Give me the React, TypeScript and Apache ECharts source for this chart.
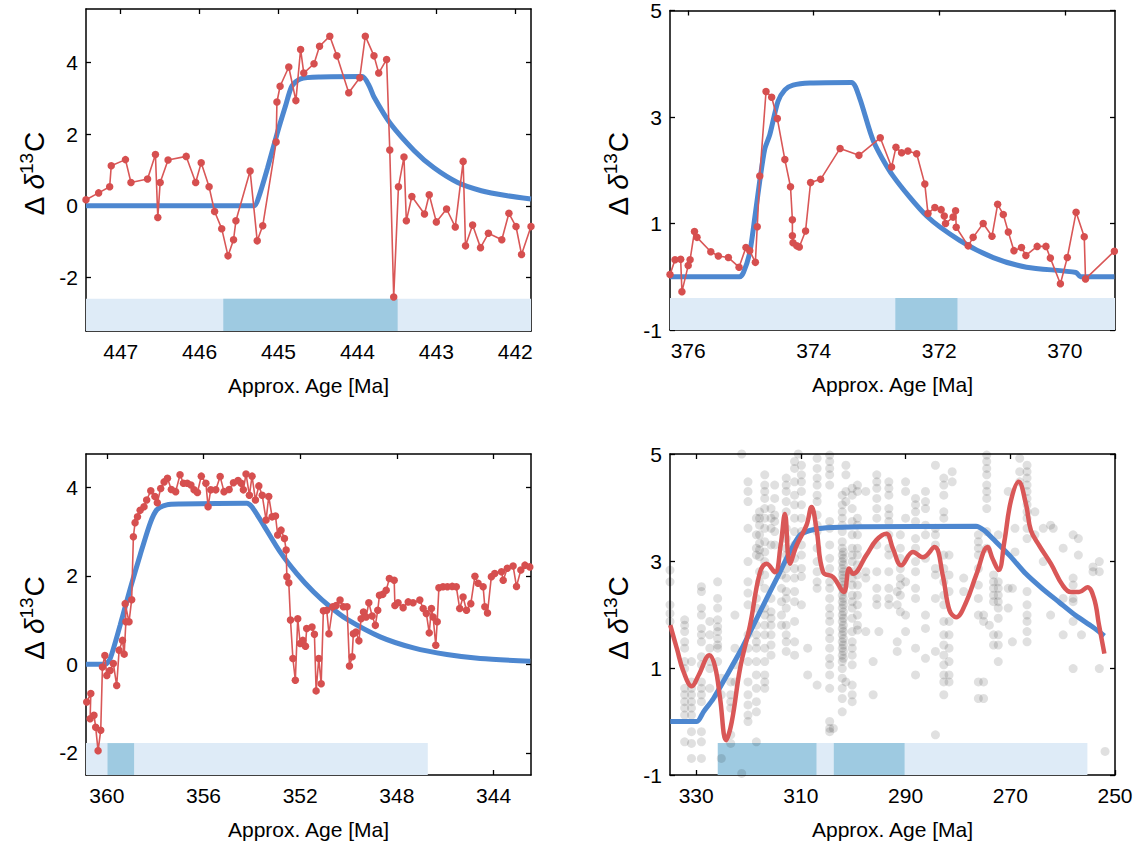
import React, { useEffect, useRef } from 'react';
import * as echarts from 'echarts';

type Pt = [number, number];

const FONT = '"Liberation Sans", Arial, Helvetica, sans-serif';
const RED = '#d64f4f';
const RED_LINE = '#d95757';
const BLUE = '#4d87d0';
const BAND_LIGHT = '#deebf7';
const BAND_DARK = '#9ecae1';

// ---- Panel A: Late Ordovician (Hirnantian) ----
const hirnantianObs: Pt[] = [
  [447.44, 0.17], [447.28, 0.36], [447.14, 0.53], [447.12, 1.12], [446.94, 1.29], [446.87, 0.65],
  [446.66, 0.75], [446.56, 1.43], [446.53, -0.33], [446.5, 0.65], [446.4, 1.28], [446.17, 1.38],
  [446.05, 0.65], [445.98, 1.2], [445.88, 0.53], [445.81, -0.16], [445.72, -0.64], [445.64, -1.4],
  [445.57, -0.95], [445.54, -0.42], [445.36, 0.97], [445.27, -0.98], [445.2, -0.56], [445.03, 1.78],
  [445.02, 2.9], [444.98, 3.34], [444.87, 3.88], [444.78, 2.94], [444.72, 4.37], [444.68, 3.71],
  [444.55, 3.97], [444.48, 4.46], [444.35, 4.74], [444.26, 4.19], [444.11, 3.16], [443.97, 3.58],
  [443.9, 4.74], [443.79, 4.19], [443.73, 3.71], [443.63, 4.09], [443.59, 1.56], [443.54, -2.55],
  [443.48, 0.53], [443.41, 1.36], [443.38, -0.42], [443.31, 0.26], [443.15, -0.23], [443.09, 0.31],
  [443.0, -0.45], [442.87, -0.09], [442.76, -0.59], [442.66, 1.24], [442.63, -1.12], [442.54, -0.54],
  [442.44, -1.17], [442.34, -0.77], [442.17, -0.95], [442.08, -0.21], [441.99, -0.58], [441.92, -1.36],
  [441.8, -0.58],
];
const hirnantianModel: Pt[] = [
  [447.44, 0], [445.31, 0], [445.25, 0.25], [445.14, 1.05], [445.02, 2.0], [444.91, 2.8],
  [444.83, 3.35], [444.72, 3.55], [444.47, 3.6], [443.94, 3.61], [443.85, 3.35], [443.79, 3.04],
  [443.58, 2.29], [443.28, 1.54], [443.03, 1.06], [442.73, 0.65], [442.43, 0.42], [442.1, 0.28],
  [441.8, 0.19],
];

// ---- Panel B: Late Devonian ----
const devonianObs: Pt[] = [
  [376.29, 0.04], [376.21, 0.32], [376.12, 0.33], [376.1, -0.28], [376.0, 0.21], [375.97, 0.32],
  [375.9, 0.85], [375.86, 0.74], [375.64, 0.47], [375.52, 0.39], [375.36, 0.36], [375.19, 0.18],
  [375.08, 0.55], [375.02, 0.49], [374.93, 0.27], [374.9, 0.94], [374.86, 1.89], [374.76, 3.48],
  [374.67, 3.37], [374.58, 2.97], [374.46, 2.2], [374.37, 1.69], [374.34, 1.07], [374.34, 0.77],
  [374.33, 0.64], [374.27, 0.58], [374.23, 0.56], [374.13, 0.86], [374.05, 1.77], [373.89, 1.83],
  [373.58, 2.41], [373.28, 2.28], [372.94, 2.61], [372.76, 2.06], [372.69, 2.43], [372.6, 2.33],
  [372.5, 2.36], [372.36, 2.31], [372.23, 1.74], [372.18, 1.19], [372.07, 1.3], [371.97, 1.26],
  [371.92, 1.14], [371.9, 1.0], [371.78, 1.12], [371.74, 1.24], [371.73, 0.93], [371.54, 0.58],
  [371.46, 0.74], [371.3, 1.0], [371.16, 0.76], [371.07, 1.36], [370.98, 1.17], [370.9, 0.84],
  [370.81, 0.49], [370.69, 0.55], [370.62, 0.4], [370.44, 0.57], [370.3, 0.57], [370.23, 0.35],
  [370.07, -0.13], [369.96, 0.36], [369.82, 1.21], [369.69, 0.75], [369.67, -0.04], [369.21, 0.48],
];
const devonianModel: Pt[] = [
  [376.29, 0], [375.18, 0], [375.12, 0.08], [375.02, 0.45], [374.94, 1.1], [374.86, 1.8],
  [374.78, 2.4], [374.7, 2.67], [374.57, 3.29], [374.46, 3.51], [374.33, 3.6], [374.06, 3.64],
  [373.4, 3.65], [373.27, 3.36], [373.05, 2.55], [372.74, 1.9], [372.2, 1.14], [371.67, 0.68],
  [371.14, 0.36], [370.61, 0.18], [369.82, 0.08], [369.75, 0], [369.21, 0],
];

// ---- Panel C: Early Carboniferous ----
const carboniferousObs: Pt[] = [
  [360.83, -0.85], [360.66, -0.66], [360.69, -1.23], [360.53, -1.15], [360.46, -1.42], [360.36, -1.95],
  [360.25, -1.49], [360.18, -0.06], [360.08, 0.2], [360.0, -0.25], [359.86, -0.14], [359.73, 0.02],
  [359.59, -0.48], [359.49, 0.32], [359.35, 0.54], [359.28, 0.23], [359.21, 0.96], [359.24, 1.37],
  [359.08, 0.96], [358.97, 1.46], [358.9, 2.88], [358.83, 3.2], [358.73, 3.33], [358.62, 3.48],
  [358.46, 3.56], [358.35, 3.71], [358.18, 3.92], [358.01, 3.79], [357.91, 3.65], [357.77, 3.97],
  [357.63, 4.12], [357.49, 4.2], [357.33, 3.95], [357.15, 3.9], [356.97, 4.28], [356.83, 4.09],
  [356.67, 4.09], [356.52, 4.05], [356.39, 3.94], [356.25, 3.88], [356.09, 4.25], [355.9, 4.09],
  [355.81, 3.56], [355.7, 3.94], [355.49, 3.94], [355.31, 4.24], [355.15, 3.9], [354.94, 3.95],
  [354.76, 4.1], [354.57, 4.15], [354.44, 4.09], [354.35, 3.94], [354.24, 4.3], [354.1, 3.82],
  [353.99, 4.25], [353.85, 3.71], [353.71, 4.03], [353.57, 3.82], [353.41, 3.26], [353.3, 3.79],
  [353.16, 3.33], [353.02, 3.35], [352.93, 2.92], [352.79, 3.03], [352.65, 2.84], [352.58, 2.58],
  [352.55, 1.98], [352.47, 1.84], [352.4, 1.0], [352.3, 0.13], [352.2, -0.36], [352.1, 1.03],
  [352.0, 0.47], [351.89, 0.54], [351.78, 0.41], [351.73, 0.81], [351.51, 0.84], [351.41, 0.68],
  [351.34, -0.6], [351.23, 0.13], [351.13, -0.44], [351.04, 1.21], [350.9, 1.22], [350.81, 0.69],
  [350.65, 1.3], [350.51, 1.33], [350.35, 1.45], [350.21, 1.3], [350.06, 1.3], [349.96, -0.04],
  [349.85, 0.17], [349.8, 0.69], [349.69, 0.73], [349.57, 0.53], [349.48, 1.03], [349.38, 1.18],
  [349.27, 1.07], [349.16, 1.39], [349.02, 1.09], [348.89, 0.88], [348.79, 1.22], [348.72, 1.56],
  [348.58, 1.58], [348.44, 1.67], [348.31, 1.94], [348.11, 1.9], [348.08, 1.33], [347.95, 1.39],
  [347.74, 1.28], [347.53, 1.41], [347.33, 1.39], [347.05, 1.45], [346.91, 1.26], [346.78, 1.15],
  [346.66, 0.71], [346.57, 1.26], [346.5, 1.07], [346.39, 0.43], [346.33, 0.96], [346.26, 1.73],
  [346.09, 1.75], [345.91, 1.75], [345.71, 1.76], [345.54, 1.75], [345.4, 1.26], [345.26, 1.52],
  [345.12, 1.22], [344.94, 1.37], [344.77, 1.99], [344.64, 1.83], [344.43, 1.75], [344.36, 1.3],
  [344.25, 1.16], [344.09, 1.98], [343.95, 2.05], [343.67, 2.09], [343.6, 1.9], [343.43, 2.17],
  [343.19, 2.22], [343.05, 1.76], [342.87, 2.13], [342.7, 2.24], [342.5, 2.2],
];
const carboniferousModel: Pt[] = [
  [360.86, 0], [360.07, 0], [359.86, 0.13], [359.45, 0.88], [359.03, 1.71], [358.62, 2.47],
  [358.21, 3.18], [357.93, 3.49], [357.52, 3.6], [356.97, 3.62], [354.21, 3.64], [354.0, 3.56],
  [353.52, 3.15], [352.83, 2.54], [352.14, 2.05], [351.45, 1.64], [350.76, 1.3], [350.07, 1.02],
  [348.69, 0.62], [347.31, 0.37], [345.93, 0.22], [344.55, 0.13], [342.48, 0.07],
];

// ---- Panel D: Late Carboniferous to Permian ----
// individual measurements, grouped by sampled age
const permoDots: [number, number[]][] = [
  [335.0, [2.83, 2.61, 2.18, 2.02, 1.87]],
  [332.2, [1.9, 1.8, 1.68, 1.49, 1.37, 1.12, 0.99, 0.62, 0.5, 0.37, 0.25, 0.12, -0.38]],
  [330.9, [1.12, 0.74, 0.62, 0.5, 0.37, 0.25, 0.12, -0.19, -0.41, -0.69]],
  [329.0, [2.52, 2.43, 2.12, 1.99, 1.74, 1.62, 1.49, 1.21, 1.06, 0.74, 0.62, 0.5, 0.37, -0.19, -0.38, -0.69]],
  [327.4, [1.87, 1.62, 1.37, 1.12, 0.99, 0.62]],
  [325.9, [2.61, 2.3, 2.12, 1.9, 1.77, 1.68, 1.55, 1.43, 1.37, 1.12]],
  [325.2, [0.81, 0.5, -0.69]],
  [323.4, [0.74, 0.5, 0.37, 0.25, -0.25, -0.41]],
  [322.6, [1.99, 1.37, 1.06, 0.74]],
  [321.3, [5.0, -0.97]],
  [320.1, [4.48, 4.3, 4.11, 3.61, 2.99, 2.61, 2.4, 2.18, 1.62, 1.37, 1.12, 0.74, 0.5, 0.31, 0.12, 0.0]],
  [318.5, [3.8, 3.49, 3.24, 3.11, 2.3, 2.12, 1.8, 1.62, 1.49, 1.37, 1.12, 0.87, 0.62, 0.37, 0.18, -0.38]],
  [317.9, [3.92, 3.8, 3.67, 3.49, 3.33, 3.21, 3.08, 2.8, 2.61]],
  [316.9, [4.61, 4.42, 4.3, 4.17, 3.98, 3.8, 3.61, 3.36, 3.17, 2.99, 2.74, 2.49, 2.12, 1.99, 1.8, 1.62, 1.37, 1.12, 0.87, 0.74, 0.62]],
  [315.7, [3.98, 3.8, 3.61, 3.3, 2.3, 2.05, 1.93, 1.8, 1.62, 1.43, 1.24]],
  [315.0, [4.42, 4.17, 3.86, 3.74, 3.55, 3.3]],
  [313.7, [2.74, 2.49, 2.24, 1.99, 1.8]],
  [312.8, [4.55, 4.42, 4.3, 4.11, 3.92, 3.61, 3.42, 3.24, 3.11, 2.86, 2.68, 2.43, 2.3, 2.12, 1.8, 1.62, 1.49, 1.31]],
  [311.2, [4.86, 4.73, 4.48, 4.23, 4.05, 3.8, 3.55, 3.3, 3.05, 2.86, 2.68, 2.43, 2.24, 1.87, 1.49, 1.24]],
  [310.5, [5.0]],
  [309.9, [4.79, 4.61, 4.48, 4.3, 4.05, 3.8, 3.55, 3.3, 3.11, 2.86, 2.71, 2.18]],
  [308.7, [1.37, 0.87]],
  [306.9, [4.92, 4.73, 4.55, 4.42, 4.23, 4.11, 3.86, 3.67, 3.55, 3.24, 2.99, 2.8, 2.61, 2.49, 0.68]],
  [304.5, [4.98, 4.86, 4.73, 4.61, 4.42, 3.74, 3.61, 3.3, 3.05, 2.86, 2.61, 2.49, 2.3, 2.12, 1.99, 1.87, 1.68, 1.55, 1.37, 1.18, 1.06, 0.87, 0.62, 0.0, -0.13, -0.19]],
  [303.8, [-0.13]],
  [302.1, [4.23, 4.05, 3.92, 3.8, 3.67, 3.55, 3.36, 3.24, 3.11, 2.99, 2.86, 2.74, 2.61, 2.49, 2.36, 2.24, 2.12, 1.99, 1.87, 1.74, 1.62, 1.49, 1.37, 1.24, 1.12, 0.99, 0.81, 0.62, 0.43, 0.18]],
  [301.9, [3.17, 3.05, 2.93, 2.8, 2.68, 2.55, 2.43, 2.3, 2.18, 2.05, 1.93, 1.8, 1.68, 1.55, 1.43, 1.31, 1.18]],
  [301.4, [4.79, 4.61, 4.3, 4.11, 0.74]],
  [300.2, [4.36, 4.23, 3.98, 3.74, 3.49, 3.24, 3.11, 2.99, 2.8, 2.68, 2.55, 2.36, 2.24, 2.12, 1.93, 1.68, 1.49, 1.37, 1.24, 1.06, 0.68, 0.5, 0.37]],
  [299.2, [4.42, 4.3, 3.8, 3.67, 3.49, 3.24, 3.11, 2.93, 2.74, 2.55, 2.36, 2.18, 1.99, 1.8, 1.71]],
  [297.6, [4.3, 2.8, 2.68, 1.68]],
  [296.2, [1.12, 0.5]],
  [295.5, [4.61, 4.48, 4.36, 4.17, 3.98, 3.8, 3.3, 2.8, 2.49, 2.3, 2.18]],
  [295.1, [1.68]],
  [293.2, [4.48, 4.36, 4.23, 3.98, 3.86, 3.74, 3.49, 3.24, 3.11, 2.8, 2.49, 2.3, 2.18]],
  [291.6, [2.43, 2.18, 1.49, 1.31]],
  [291.0, [3.49, 3.24, 3.05, 2.86, 2.68, 2.55, 2.36, 2.05]],
  [290.0, [4.48, 4.3, 3.8, 2.61, 1.99, 1.68]],
  [288.1, [4.17, 4.05, 3.92, 3.74, 3.42, 3.24, 2.99, 2.8, 2.49, 2.3, 1.37, 0.87]],
  [286.2, [4.3, 4.11, 3.98, 3.67, 3.49, 3.05, 1.99, 1.74, 1.18]],
  [284.3, [4.79, 3.61, 3.49, 3.3, 2.86, 2.74, 2.3, 1.31, -0.25]],
  [282.7, [4.55, 4.42, 4.23, 3.92, 3.8, 3.11, 2.86, 2.61, 2.36, 2.18, 1.87, 1.62, 1.43, 1.24, 1.06, 0.87, 0.74, 0.5]],
  [281.7, [3.11, 2.74, 2.43, 1.87, 1.62, 1.37, 1.12, 0.87, 0.74]],
  [281.1, [4.67, 4.48]],
  [278.9, [2.68, 2.43]],
  [276.1, [3.49, 3.36, 3.24, 3.11, 2.86, 2.55, 2.3, 1.99, 0.74, 0.43]],
  [275.1, [1.99, 1.87, 0.74, 0.43]],
  [274.5, [4.98, 4.86, 4.73, 4.61, 4.42, 4.3, 4.17, 3.98, 3.55, 3.24]],
  [274.0, [1.8]],
  [273.2, [2.74, 2.61, 2.49, 2.36, 2.24, 1.62, 1.43]],
  [272.3, [3.49, 2.61, 2.49, 2.36, 2.24, 2.12, 1.93, 1.62, 1.43, 1.12]],
  [270.4, [4.3, 2.49, 2.12]],
  [269.6, [2.49, 1.49]],
  [269.1, [3.61, 3.17]],
  [268.2, [4.92, 4.67, 4.48]],
  [266.8, [4.79, 4.67, 4.55, 4.42, 4.3, 4.17, 4.05, 3.92, 3.8, 3.61, 3.42, 2.43, 2.18, 1.99, 1.87, 1.68, 1.49]],
  [265.3, [3.92, 3.49]],
  [263.7, [3.61, 2.99]],
  [262.3, [3.67, 1.99]],
  [261.8, [3.61]],
  [259.9, [3.24, 2.3, 1.62]],
  [258.0, [3.49, 2.68, 2.55, 2.3, 2.24, 1.87, 0.99]],
  [257.0, [3.42, 3.11]],
  [256.4, [1.62]],
  [254.2, [2.89, 2.8]],
  [253.0, [2.99, 2.8, 0.99]],
  [251.9, [-0.56]],
];
const permoRunning: Pt[] = [
  [334.95, 1.8], [333.68, 1.36], [332.41, 0.93], [330.83, 0.66], [329.56, 0.86], [327.46, 1.24],
  [326.38, 1.02], [325.43, 0.43], [324.29, -0.35], [323.21, -0.01], [321.62, 0.99], [319.71, 1.8],
  [317.81, 2.79], [316.54, 2.95], [314.95, 2.79], [313.87, 3.29], [313.05, 3.88], [312.1, 2.95],
  [310.83, 3.29], [308.92, 3.67], [307.97, 4.01], [307.02, 3.6], [305.75, 2.79], [303.84, 2.7],
  [301.81, 2.42], [300.79, 2.86], [300.03, 2.76], [297.49, 3.11], [295.59, 3.39], [293.68, 3.51],
  [292.41, 3.23], [290.83, 2.92], [288.6, 3.17], [286.7, 3.07], [284.48, 3.26], [282.89, 2.73],
  [281.62, 2.08], [280.35, 1.95], [278.44, 2.23], [276.54, 2.73], [274.32, 3.26], [273.37, 3.04],
  [272.22, 2.83], [271.14, 3.36], [269.87, 4.13], [268.41, 4.48], [267.02, 4.07], [266.06, 3.57],
  [264.48, 3.29], [262.25, 2.95], [260.03, 2.55], [258.44, 2.42], [256.86, 2.42], [255.27, 2.51],
  [254.0, 2.3], [253.05, 1.8], [252.03, 1.27],
];
const permoModel: Pt[] = [
  [334.95, 0], [329.87, 0], [328.6, 0.18], [326.7, 0.43], [324.16, 0.86], [320.98, 1.42],
  [317.81, 2.05], [314.63, 2.67], [312.1, 3.17], [310.19, 3.48], [308.29, 3.57], [305.11, 3.62],
  [298.76, 3.64], [276.54, 3.65], [274.95, 3.57], [273.37, 3.42], [270.19, 3.11], [267.02, 2.76],
  [263.84, 2.48], [260.67, 2.23], [257.49, 1.98], [254.32, 1.77], [252.03, 1.6],
];

// axis ranges and tick values
const xTicksA = [442, 443, 444, 445, 446, 447];
const xTicksB = [370, 372, 374, 376];
const xTicksC = [344, 348, 352, 356, 360];
const xTicksD = [250, 270, 290, 310, 330];
const yTicksAC = [-2, 0, 2, 4];
const yTicksBD = [-1, 1, 3, 5];

type Band = { from: number; to: number; dark: boolean };

const panels = [
  {
    grid: { left: 86, top: 9, width: 445, height: 322 },
    x: [441.8, 447.44], xTicks: xTicksA, y: [-3.5, 5.5], yTicks: yTicksAC, bandTop: -2.6,
    bands: [{ from: 447.44, to: 441.8, dark: false }, { from: 445.7, to: 443.49, dark: true }] as Band[],
    obs: hirnantianObs, model: hirnantianModel,
  },
  {
    grid: { left: 670, top: 9, width: 445, height: 321 },
    x: [369.2, 376.29], xTicks: xTicksB, y: [-1, 5], yTicks: yTicksBD, bandTop: -0.4,
    bands: [{ from: 376.29, to: 369.2, dark: false }, { from: 372.7, to: 371.71, dark: true }] as Band[],
    obs: devonianObs, model: devonianModel,
  },
  {
    grid: { left: 86, top: 454, width: 445, height: 321 },
    x: [342.45, 360.86], xTicks: xTicksC, y: [-2.5, 4.75], yTicks: yTicksAC, bandTop: -1.78,
    bands: [{ from: 360.86, to: 346.72, dark: false }, { from: 359.97, to: 358.87, dark: true }] as Band[],
    obs: carboniferousObs, model: carboniferousModel,
  },
  {
    grid: { left: 670, top: 454, width: 445, height: 321 },
    x: [250, 335], xTicks: xTicksD, y: [-1, 5], yTicks: yTicksBD, bandTop: -0.4,
    bands: [
      { from: 325.87, to: 255.27, dark: false },
      { from: 325.87, to: 307.02, dark: true },
      { from: 303.71, to: 290.19, dark: true },
    ] as Band[],
    obs: null as Pt[] | null, model: permoModel,
  },
];

function buildOption(): echarts.EChartsOption {
  const grid: any[] = [];
  const xAxis: any[] = [];
  const yAxis: any[] = [];
  const series: any[] = [];
  const frame = { onZero: false, lineStyle: { color: '#000', width: 1.5 } };
  const tickStyle = { color: '#000', width: 1.3 };
  const labelStyle = { color: '#000', fontSize: 21, fontFamily: FONT };

  panels.forEach((p, i) => {
    grid.push({ ...p.grid, containLabel: false });
    const base = { gridIndex: i, type: 'value', inverse: true, min: p.x[0], max: p.x[1], splitLine: { show: false } };
    xAxis.push({
      ...base, position: 'bottom', axisLine: frame,
      axisTick: { inside: true, length: 5, customValues: p.xTicks, lineStyle: tickStyle },
      axisLabel: { ...labelStyle, margin: 10, customValues: p.xTicks },
      name: 'Approx. Age [Ma]', nameLocation: 'middle', nameGap: 44,
      nameTextStyle: { color: '#000', fontSize: 21, fontFamily: FONT },
    });
    xAxis.push({
      ...base, position: 'top', axisLine: frame,
      axisTick: { inside: true, length: 5, customValues: p.xTicks, lineStyle: tickStyle },
      axisLabel: { show: false },
    });
    const ybase = { gridIndex: i, type: 'value', min: p.y[0], max: p.y[1], splitLine: { show: false } };
    yAxis.push({
      ...ybase, position: 'left', axisLine: frame,
      axisTick: { inside: true, length: 5, customValues: p.yTicks, lineStyle: tickStyle },
      axisLabel: { ...labelStyle, margin: 8, customValues: p.yTicks },
      name: '{d|Δ}{i|δ}{s|13}{d|C}', nameLocation: 'middle', nameRotate: 90, nameGap: 38,
      nameTextStyle: {
        color: '#000', fontFamily: FONT,
        rich: {
          d: { fontSize: 28, fontFamily: FONT, color: '#000', verticalAlign: 'bottom', lineHeight: 30, padding: [0, 7, 0, 0] },
          i: { fontSize: 28, fontFamily: FONT, fontStyle: 'italic', color: '#000', verticalAlign: 'bottom', lineHeight: 30 },
          s: { fontSize: 19, fontFamily: FONT, color: '#000', verticalAlign: 'bottom', lineHeight: 30, padding: [0, 1, 12, 0] },
        },
      },
    });
    yAxis.push({
      ...ybase, position: 'right', axisLine: frame,
      axisTick: { inside: true, length: 5, customValues: p.yTicks, lineStyle: tickStyle },
      axisLabel: { show: false },
    });

    const xi = 2 * i;
    series.push({
      type: 'line', xAxisIndex: xi, yAxisIndex: xi, data: [], silent: true, z: 1,
      markArea: {
        silent: true,
        data: p.bands.map((b) => [
          { xAxis: b.from, yAxis: p.y[0], itemStyle: { color: b.dark ? BAND_DARK : BAND_LIGHT, opacity: 1 } },
          { xAxis: b.to, yAxis: p.bandTop },
        ]),
      },
    });

    if (p.obs) {
      series.push({
        type: 'line', xAxisIndex: xi, yAxisIndex: xi, data: p.model, z: 3,
        symbol: 'none', smooth: 0.25, lineStyle: { color: BLUE, width: 5 }, silent: true,
      });
      series.push({
        type: 'line', xAxisIndex: xi, yAxisIndex: xi, data: p.obs, z: 4,
        symbol: 'circle', symbolSize: 7.5, showSymbol: true,
        itemStyle: { color: RED }, lineStyle: { color: RED_LINE, width: 1.6 }, silent: true,
      });
    } else {
      const dots: Pt[] = [];
      permoDots.forEach(([age, ys]) => ys.forEach((v) => dots.push([age, v])));
      series.push({
        type: 'scatter', xAxisIndex: xi, yAxisIndex: xi, data: dots, z: 2,
        symbolSize: 9, itemStyle: { color: 'rgba(0,0,0,0.15)' }, silent: true,
      });
      series.push({
        type: 'line', xAxisIndex: xi, yAxisIndex: xi, data: p.model, z: 3,
        symbol: 'none', smooth: 0.25, lineStyle: { color: BLUE, width: 5 }, silent: true,
      });
      series.push({
        type: 'line', xAxisIndex: xi, yAxisIndex: xi, data: permoRunning, z: 4,
        symbol: 'none', smooth: 0.4, lineStyle: { color: RED_LINE, width: 4.5 }, silent: true,
      });
    }
  });

  return { animation: false, backgroundColor: '#fff', grid, xAxis, yAxis, series };
}

export default function App() {
  const ref = useRef<HTMLDivElement>(null);
  useEffect(() => {
    if (!ref.current) return;
    const chart = echarts.init(ref.current, null, { renderer: 'svg' });
    chart.setOption(buildOption());
    return () => chart.dispose();
  }, []);
  return (
    <div
      ref={ref}
      style={{ position: 'fixed', left: 0, top: 0, width: 1141, height: 850, background: '#fff' }}
    />
  );
}
